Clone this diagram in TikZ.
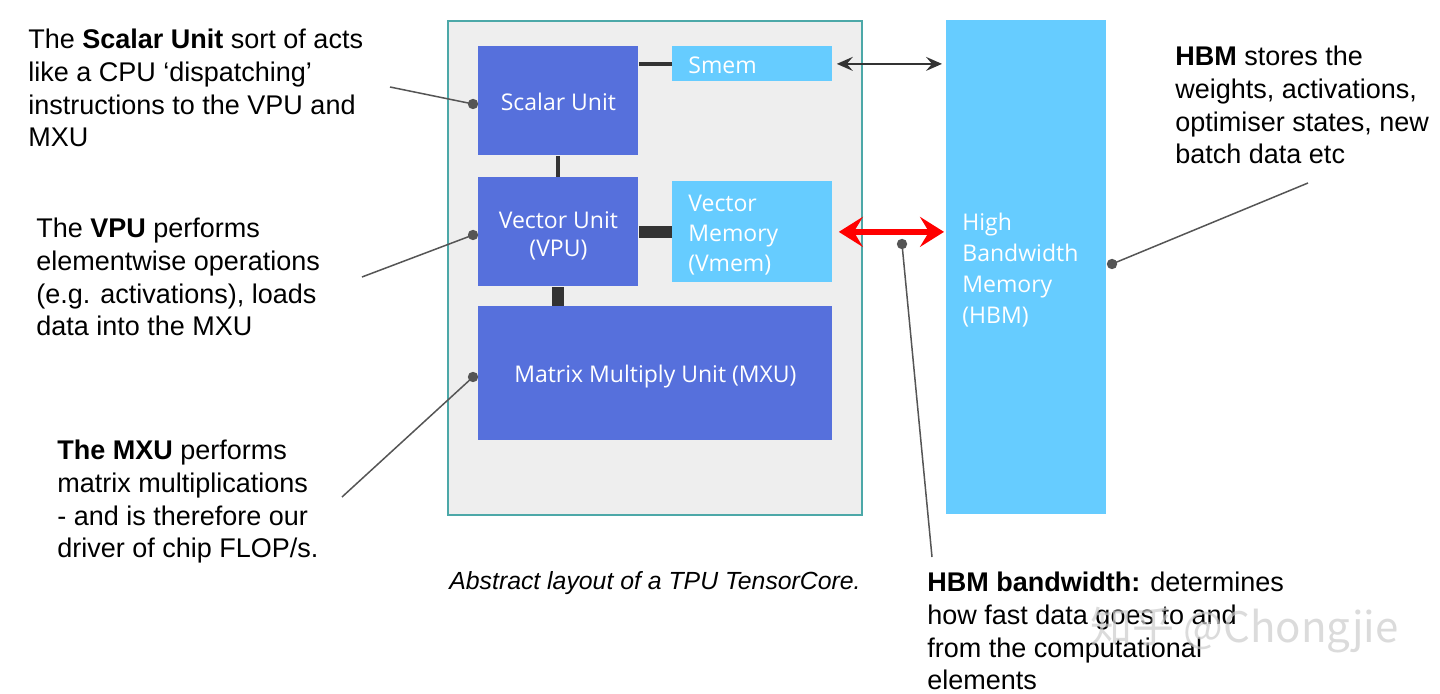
\documentclass[tikz,border=0pt]{standalone}
\usepackage{fontspec}
\setmainfont{Liberation Sans}
\newfontfamily\boxfont{Open Sans}
\newfontfamily\wmfont{Noto Sans CJK SC}
\usetikzlibrary{arrows.meta,calc}
\definecolor{unitblue}{RGB}{86,112,220}
\definecolor{memblue}{RGB}{102,204,255}
\definecolor{coregray}{RGB}{238,238,238}
\definecolor{coreteal}{RGB}{76,168,168}
\definecolor{conndark}{RGB}{51,51,51}
\definecolor{annogray}{RGB}{85,85,85}
\definecolor{arrowred}{RGB}{255,0,0}
\tikzset{
  unitbox/.style={fill=unitblue, draw=none, inner sep=0pt, anchor=north west},
  membox/.style={fill=memblue, draw=none, inner sep=0pt, anchor=north west},
  boxtext/.style={text=white, inner sep=0pt, font=\boxfont\fontsize{11.5}{14}\selectfont, align=center},
  memtext/.style={text=white, inner sep=0pt, font=\boxfont\fontsize{11.5}{15}\selectfont, align=left, text width=64pt},
  note/.style={inner sep=0pt, align=left, anchor=north west, font=\fontsize{13.5}{16.3}\selectfont, text=black},
  conn/.style={draw=conndark},
  anno/.style={draw=annogray, line width=0.75pt},
  annodot/.style={fill=annogray},
}
\begin{document}
\begin{tikzpicture}[x=0.5pt,y=-0.5pt]
\useasboundingbox (0,0) rectangle (1440,694);
\fill[white] (0,0) rectangle (1440,694);

% TensorCore outline
\node[fill=coregray, draw=coreteal, line width=1pt, minimum width=207pt, minimum height=247pt, anchor=north west, inner sep=0pt] (core) at (447,20) {};

% units (boxes)
\node[unitbox, minimum width=80pt, minimum height=54.5pt] (scalar) at (478,46) {};
\node[membox, minimum width=80pt, minimum height=17.5pt] (smem) at (672,46) {};
\node[unitbox, minimum width=80pt, minimum height=54.5pt] (vpu) at (478,177) {};
\node[membox, minimum width=80pt, minimum height=50.5pt] (vmem) at (672,181) {};
\node[unitbox, minimum width=177pt, minimum height=67pt] (mxu) at (478,306) {};
\node[membox, minimum width=80pt, minimum height=247pt] (hbm) at (946,20) {};

% unit labels
\node[boxtext] (scalartext) at ([yshift=-0.5pt]scalar.center) {Scalar Unit};
\node[memtext, anchor=west] (smemtext) at ([xshift=8pt,yshift=-0.5pt]smem.west) {Smem};
\node[boxtext, font=\boxfont\fontsize{11.5}{14}\selectfont] (vputext) at ([yshift=-2.2pt]vpu.center) {Vector Unit\\(VPU)};
\node[memtext, anchor=west] (vmemtext) at ([xshift=8pt,yshift=-1.5pt]vmem.west) {Vector\\Memory\\(Vmem)};
\node[boxtext] (mxutext) at ([yshift=-1.5pt]mxu.center) {Matrix Multiply Unit (MXU)};
\node[memtext, anchor=west, font=\boxfont\fontsize{11.5}{15.5}\selectfont] (hbmtext) at ([xshift=8pt,yshift=-1.5pt]hbm.west) {High\\Bandwidth\\Memory\\(HBM)};

% internal connectors
\draw[conn, line width=2pt] (smem.west) -- (smem.west -| scalar.east);
\draw[conn, line width=2pt] (scalar.south) -- (vpu.north);
\draw[conn, line width=6pt] (vmem.west) -- (vmem.west -| vpu.east);
\draw[conn, line width=6pt] (vpu.south) -- (vpu.south |- mxu.north);

% memory arrows
\draw[conndark, line width=1pt, {Stealth[length=8pt,width=7pt,inset=3pt]}-{Stealth[length=8pt,width=7pt,inset=3pt]}, shorten <=2pt, shorten >=2pt] (smem.east) -- (smem.east -| hbm.west);
\draw[arrowred, line width=3pt, {Stealth[length=12pt,width=15pt,inset=4.5pt]}-{Stealth[length=12pt,width=15pt,inset=4.5pt]}, shorten <=3pt, shorten >=1pt] (vmem.east) -- (vmem.east -| hbm.west);

% annotation texts
\node[note] (tscalar) at (28,29) {The \textbf{Scalar Unit} sort of acts\\like a CPU ‘dispatching’\\instructions to the VPU and\\MXU};
\node[note] (tvpu) at (36,218) {The \textbf{VPU} performs\\elementwise operations\\(e.g. activations), loads\\data into the MXU};
\node[note] (tmxu) at (57,440) {\textbf{The MXU} performs\\matrix multiplications\\- and is therefore our\\driver of chip FLOP/s.};
\node[note] (thbm) at (1175,46) {\textbf{HBM} stores the\\weights, activations,\\optimiser states, new\\batch data etc};
\node[note] (tbw) at (927,572) {\textbf{HBM bandwidth:} determines\\how fast data goes to and\\from the computational\\elements};
\node[note, font=\fontsize{12.4}{15}\selectfont\itshape] (caption) at (449,571) {Abstract layout of a TPU TensorCore.};

% annotation leaders
\coordinate (ds) at (473,104);
\coordinate (es) at (390,87);
\coordinate (dv) at (473,235);
\coordinate (ev) at (362,277);
\coordinate (dm) at (473,377);
\coordinate (em) at (342,497);
\coordinate (dh) at (1112,264);
\coordinate (eh) at (1308,183);
\coordinate (db) at (902,244);
\coordinate (eb) at (932,557);
\draw[anno] (es) -- (ds);
\draw[anno] (ev) -- (dv);
\draw[anno] (em) -- (dm);
\draw[anno] (eh) -- (dh);
\draw[anno] (eb) -- (db);
\foreach \d in {ds,dv,dm,dh,db} \fill[annodot] (\d) circle (2.6pt);

% watermark
\node[inner sep=0pt, anchor=west, text=gray!40, opacity=0.7, font=\wmfont\fontsize{21}{24}\selectfont] (wm) at (1090,630) {知乎 @Chongjie};
\end{tikzpicture}
\end{document}
